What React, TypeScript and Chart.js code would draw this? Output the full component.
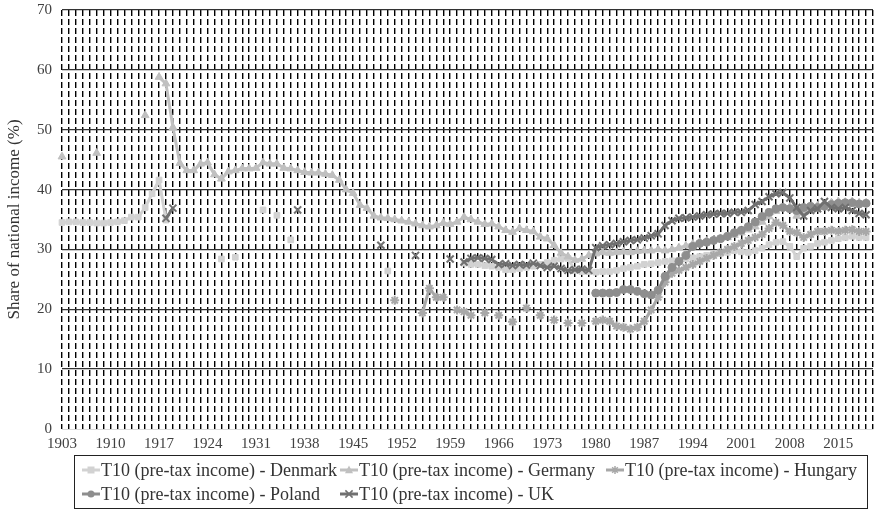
import React, { useEffect, useRef } from 'react';
import { Chart, registerables } from 'chart.js';

Chart.register(...registerables);

const firstYear = 1903;
const lastYear = 2020;
const years: string[] = [];
for (let y = firstYear; y <= lastYear; y++) years.push(String(y));

const yTicks = [0, 10, 20, 30, 40, 50, 60, 70];

const denmark: [number, number][] = [
  [1903, 34.5], [1904, 34.6], [1905, 34.6], [1906, 34.5], [1907, 34.5], [1908, 34.4], [1909, 34.4],
  [1910, 34.5], [1911, 34.6], [1912, 34.8], [1913, 35.4], [1914, 35.4], [1915, 37.0], [1916, 39.3],
  [1917, 41.6], [1918, 34.9], [1926, 28.4], [1928, 28.7], [1932, 36.6], [1934, 35.7], [1936, 31.6],
  [1950, 26.4], [1961, 27.7], [1962, 27.5], [1963, 27.5], [1964, 27.3], [1965, 27.2], [1966, 27.0],
  [1967, 26.6], [1968, 26.6], [1969, 26.8], [1970, 27.0], [1971, 27.2], [1972, 27.5], [1973, 27.8],
  [1974, 28.2], [1975, 28.4], [1976, 28.5], [1977, 26.5], [1978, 26.3], [1979, 26.3], [1980, 26.2],
  [1981, 26.3], [1982, 26.3], [1983, 26.5], [1984, 26.8], [1985, 27.0], [1986, 27.2], [1987, 27.5],
  [1988, 27.6], [1989, 27.8], [1990, 28.0], [1991, 28.1], [1992, 28.2], [1993, 28.4], [1994, 28.6],
  [1995, 28.8], [1996, 29.0], [1997, 29.2], [1998, 29.3], [1999, 29.5], [2000, 29.8], [2001, 29.6],
  [2002, 29.5], [2003, 29.8], [2004, 30.2], [2005, 30.8], [2006, 31.2], [2007, 31.3], [2008, 30.5],
  [2009, 28.8], [2010, 30.2], [2011, 30.5], [2012, 31.0], [2013, 31.2], [2014, 31.5], [2015, 31.8],
  [2016, 32.0], [2017, 32.2], [2018, 32.0], [2019, 32.0],
];

const germany: [number, number][] = [
  [1903, 45.5], [1908, 46.1], [1915, 52.4], [1917, 58.8], [1918, 57.7], [1919, 50.4], [1920, 44.4],
  [1921, 43.2], [1922, 43.2], [1923, 44.3], [1924, 44.5], [1925, 42.5], [1926, 41.8], [1927, 43.0],
  [1928, 43.2], [1929, 43.5], [1930, 43.5], [1931, 43.6], [1932, 44.5], [1933, 44.3], [1934, 44.3],
  [1935, 43.6], [1936, 43.5], [1937, 43.2], [1938, 42.9], [1939, 42.8], [1940, 42.8], [1941, 42.6],
  [1942, 42.4], [1943, 41.6], [1944, 40.0], [1945, 39.4], [1946, 37.4], [1947, 36.9], [1948, 35.6],
  [1949, 35.3], [1950, 35.2], [1951, 35.0], [1952, 34.8], [1953, 34.6], [1954, 34.3], [1955, 34.0],
  [1956, 33.8], [1957, 34.0], [1958, 34.4], [1959, 34.2], [1960, 34.6], [1961, 35.4], [1962, 35.0],
  [1963, 34.6], [1964, 34.2], [1965, 34.3], [1966, 33.8], [1967, 33.2], [1968, 32.9], [1969, 33.5],
  [1970, 33.2], [1971, 33.0], [1972, 32.1], [1973, 31.8], [1974, 30.7], [1975, 29.4], [1976, 28.8],
  [1977, 28.2], [1978, 28.4], [1979, 29.0], [1980, 29.3], [1981, 29.5], [1982, 29.4], [1983, 29.5],
  [1984, 29.6], [1985, 29.5], [1986, 29.7], [1987, 29.8], [1988, 29.8], [1989, 30.0], [1990, 29.8],
  [1991, 30.0], [1992, 30.3], [1993, 30.6], [1994, 30.9], [1995, 31.2], [1996, 31.4], [1997, 31.6],
  [1998, 31.8], [1999, 32.0], [2000, 32.4], [2001, 32.8], [2002, 33.3], [2003, 33.8], [2004, 34.6],
  [2005, 35.5], [2006, 36.4], [2007, 37.0], [2008, 37.1], [2009, 35.6], [2010, 36.2], [2011, 37.0],
  [2012, 37.3], [2013, 37.5], [2014, 37.8], [2015, 38.0], [2016, 37.9], [2017, 38.0], [2018, 37.8],
  [2019, 37.8],
];

const hungary: [number, number][] = [
  [1951, 21.5], [1955, 19.4], [1956, 23.5], [1957, 22.0], [1958, 22.0], [1960, 19.9], [1961, 19.6],
  [1962, 19.0], [1964, 19.4], [1966, 19.0], [1968, 17.9], [1970, 20.2], [1972, 19.0], [1974, 18.2],
  [1976, 17.7], [1978, 17.7], [1980, 18.0], [1981, 18.2], [1982, 18.0], [1983, 17.2], [1984, 17.0],
  [1985, 16.7], [1986, 17.0], [1987, 18.0], [1988, 19.9], [1989, 22.0], [1990, 24.5], [1991, 26.0],
  [1992, 26.5], [1993, 27.0], [1994, 27.5], [1995, 28.0], [1996, 28.5], [1997, 29.0], [1998, 29.5],
  [1999, 30.0], [2000, 30.5], [2001, 31.0], [2002, 31.5], [2003, 32.0], [2004, 32.5], [2005, 33.5],
  [2006, 34.5], [2007, 34.0], [2008, 33.0], [2009, 32.8], [2010, 32.0], [2011, 32.5], [2012, 33.0],
  [2013, 33.0], [2014, 33.2], [2015, 33.0], [2016, 33.2], [2017, 33.3], [2018, 33.0], [2019, 33.0],
];

const poland: [number, number][] = [
  [1980, 22.7], [1981, 22.7], [1982, 22.7], [1983, 22.8], [1984, 23.3], [1985, 23.3], [1986, 23.0],
  [1987, 22.6], [1988, 22.4], [1989, 23.2], [1990, 25.5], [1991, 27.0], [1992, 28.0], [1993, 29.0],
  [1994, 30.5], [1995, 31.0], [1996, 31.2], [1997, 31.5], [1998, 31.8], [1999, 32.2], [2000, 32.8],
  [2001, 33.2], [2002, 33.8], [2003, 34.6], [2004, 35.5], [2005, 36.2], [2006, 36.8], [2007, 37.0],
  [2008, 36.8], [2009, 36.5], [2010, 37.0], [2011, 37.2], [2012, 37.0], [2013, 37.2], [2014, 37.5],
  [2015, 37.7], [2016, 37.8], [2017, 37.8], [2018, 37.6], [2019, 37.7],
];

const uk: [number, number][] = [
  [1918, 35.2], [1919, 36.9], [1937, 36.6], [1949, 30.7], [1954, 29.0], [1959, 28.4], [1961, 27.9],
  [1962, 28.5], [1963, 28.6], [1964, 28.5], [1965, 28.3], [1966, 27.5], [1967, 27.6], [1968, 27.3],
  [1969, 27.5], [1970, 27.4], [1971, 27.7], [1972, 27.3], [1973, 27.0], [1974, 27.2], [1975, 26.8],
  [1976, 26.5], [1977, 26.6], [1978, 26.7], [1979, 26.5], [1980, 30.3], [1981, 30.6], [1982, 30.8],
  [1983, 31.0], [1984, 31.3], [1985, 31.5], [1986, 31.6], [1987, 31.9], [1988, 32.3], [1989, 32.6],
  [1990, 34.0], [1991, 34.8], [1992, 35.2], [1993, 35.3], [1994, 35.4], [1995, 35.6], [1996, 35.8],
  [1997, 35.9], [1998, 36.0], [1999, 36.0], [2000, 36.2], [2001, 36.2], [2002, 36.5], [2003, 37.5],
  [2004, 38.0], [2005, 38.8], [2006, 39.3], [2007, 39.5], [2008, 38.6], [2009, 37.0], [2010, 35.6],
  [2011, 36.5], [2012, 36.8], [2013, 38.0], [2014, 37.0], [2015, 36.8], [2016, 37.0], [2017, 36.5],
  [2018, 36.0], [2019, 35.8],
];

const seriesNames = [
  'T10 (pre-tax income) - Denmark',
  'T10 (pre-tax income) - Germany',
  'T10 (pre-tax income) - Hungary',
  'T10 (pre-tax income) - Poland',
  'T10 (pre-tax income) - UK',
];
const seriesColors = ['#d2d2d2', '#c0c0c0', '#a8a8a8', '#8e8e8e', '#707070'];
const seriesMarkers = ['rect', 'triangle', 'star', 'circle', 'crossRot'];
const seriesRadius = [4, 4.5, 4.5, 4, 5];

const FONT = '"Liberation Serif", "Times New Roman", serif';

function toSeries(pairs: [number, number][]): (number | null)[] {
  const out: (number | null)[] = years.map(() => null);
  pairs.forEach(([yr, v]) => {
    out[yr - firstYear] = v;
  });
  return out;
}

function drawMarker(ctx: CanvasRenderingContext2D, style: string, x: number, y: number, r: number, color: string) {
  ctx.save();
  ctx.fillStyle = color;
  ctx.strokeStyle = color;
  ctx.lineWidth = 1.5;
  ctx.beginPath();
  if (style === 'rect') {
    ctx.rect(x - r, y - r, 2 * r, 2 * r);
    ctx.fill();
  } else if (style === 'triangle') {
    ctx.moveTo(x, y - r * 1.1);
    ctx.lineTo(x + r, y + r * 0.8);
    ctx.lineTo(x - r, y + r * 0.8);
    ctx.closePath();
    ctx.fill();
  } else if (style === 'circle') {
    ctx.arc(x, y, r, 0, Math.PI * 2);
    ctx.fill();
  } else if (style === 'star') {
    for (let k = 0; k < 4; k++) {
      const a = (k * Math.PI) / 4;
      ctx.moveTo(x - Math.cos(a) * r, y - Math.sin(a) * r);
      ctx.lineTo(x + Math.cos(a) * r, y + Math.sin(a) * r);
    }
    ctx.stroke();
  } else {
    ctx.moveTo(x - r * 0.8, y - r * 0.8);
    ctx.lineTo(x + r * 0.8, y + r * 0.8);
    ctx.moveTo(x + r * 0.8, y - r * 0.8);
    ctx.lineTo(x - r * 0.8, y + r * 0.8);
    ctx.stroke();
  }
  ctx.restore();
}

const legendPlugin = {
  id: 'boxLegend',
  afterDraw(chart: any) {
    const ctx = chart.ctx as CanvasRenderingContext2D;
    const boxX = 74, boxY = 455, boxW = 793, boxH = 53;
    ctx.save();
    ctx.strokeStyle = '#222';
    ctx.lineWidth = 1;
    ctx.strokeRect(boxX + 0.5, boxY + 0.5, boxW, boxH);
    const cols = [82, 340, 606];
    const rows = [470, 494];
    ctx.font = `18px ${FONT}`;
    ctx.textBaseline = 'middle';
    ctx.textAlign = 'left';
    seriesNames.forEach((name, i) => {
      const x = cols[i % 3];
      const y = rows[Math.floor(i / 3)];
      ctx.strokeStyle = seriesColors[i];
      ctx.lineWidth = 3;
      ctx.beginPath();
      ctx.moveTo(x, y);
      ctx.lineTo(x + 18, y);
      ctx.stroke();
      drawMarker(ctx, seriesMarkers[i], x + 9, y, seriesRadius[i] - 0.5, seriesColors[i]);
      ctx.fillStyle = '#333';
      ctx.fillText(name, x + 19, y + 1);
    });
    ctx.restore();
  },
};

export default function App() {
  const canvasRef = useRef<HTMLCanvasElement | null>(null);

  useEffect(() => {
    document.body.style.margin = '0';
    const canvas = canvasRef.current;
    if (!canvas) return;
    const allSeries = [denmark, germany, hungary, poland, uk];
    const chart = new Chart(canvas, {
      type: 'line',
      data: {
        labels: years,
        datasets: allSeries.map((pairs, i) => ({
          label: seriesNames[i],
          data: toSeries(pairs),
          borderColor: seriesColors[i],
          backgroundColor: seriesColors[i],
          borderWidth: 3,
          pointStyle: seriesMarkers[i] as any,
          pointRadius: seriesRadius[i],
          pointBorderWidth: seriesMarkers[i] === 'star' || seriesMarkers[i] === 'crossRot' ? 2 : 1,
          pointBackgroundColor: seriesColors[i],
          pointBorderColor: seriesColors[i],
          spanGaps: false,
          tension: 0,
          order: 5 - i,
        })),
      },
      options: {
        responsive: true,
        maintainAspectRatio: false,
        animation: false,
        layout: { padding: { top: 0, right: 5, left: 0, bottom: 0 } },
        plugins: {
          legend: { display: false },
          tooltip: { enabled: false },
        },
        scales: {
          x: {
            type: 'category',
            offset: false,
            grid: {
              display: true,
              color: '#000',
              lineWidth: 1.4,
              drawTicks: false,
            },
            border: { display: true, color: '#d9d9d9', width: 1, dash: [6, 3] },
            ticks: {
              autoSkip: false,
              maxRotation: 0,
              minRotation: 0,
              padding: 6,
              color: '#404040',
              font: { family: FONT, size: 15 },
              callback: (_v: any, idx: number) => (idx % 7 === 0 ? years[idx] : ''),
            },
            afterFit: (scale: any) => {
              scale.height = 90;
              scale.paddingLeft = 0;
              scale.paddingRight = 0;
            },
          },
          y: {
            min: 0,
            max: 70,
            afterBuildTicks: (scale: any) => {
              scale.ticks = yTicks.map((v) => ({ value: v }));
            },
            grid: {
              color: (c: any) => (c.tick && c.tick.value === 0 ? 'rgba(0,0,0,0)' : '#333'),
              lineWidth: 1.3,
              drawTicks: false,
            },
            border: { display: false },
            ticks: {
              padding: 10,
              color: '#404040',
              font: { family: FONT, size: 15 },
            },
            title: {
              display: true,
              text: 'Share of national income (%)',
              color: '#333',
              font: { family: FONT, size: 17 },
              padding: { top: 4, bottom: 0 },
            },
            afterFit: (scale: any) => {
              scale.width = 62;
              scale.paddingTop = 10;
              scale.paddingBottom = 0;
            },
          },
        },
      },
      plugins: [legendPlugin],
    });
    return () => chart.destroy();
  }, []);

  return (
    <div style={{ position: 'relative', width: 880, height: 519 }}>
      <canvas ref={canvasRef} />
    </div>
  );
}
